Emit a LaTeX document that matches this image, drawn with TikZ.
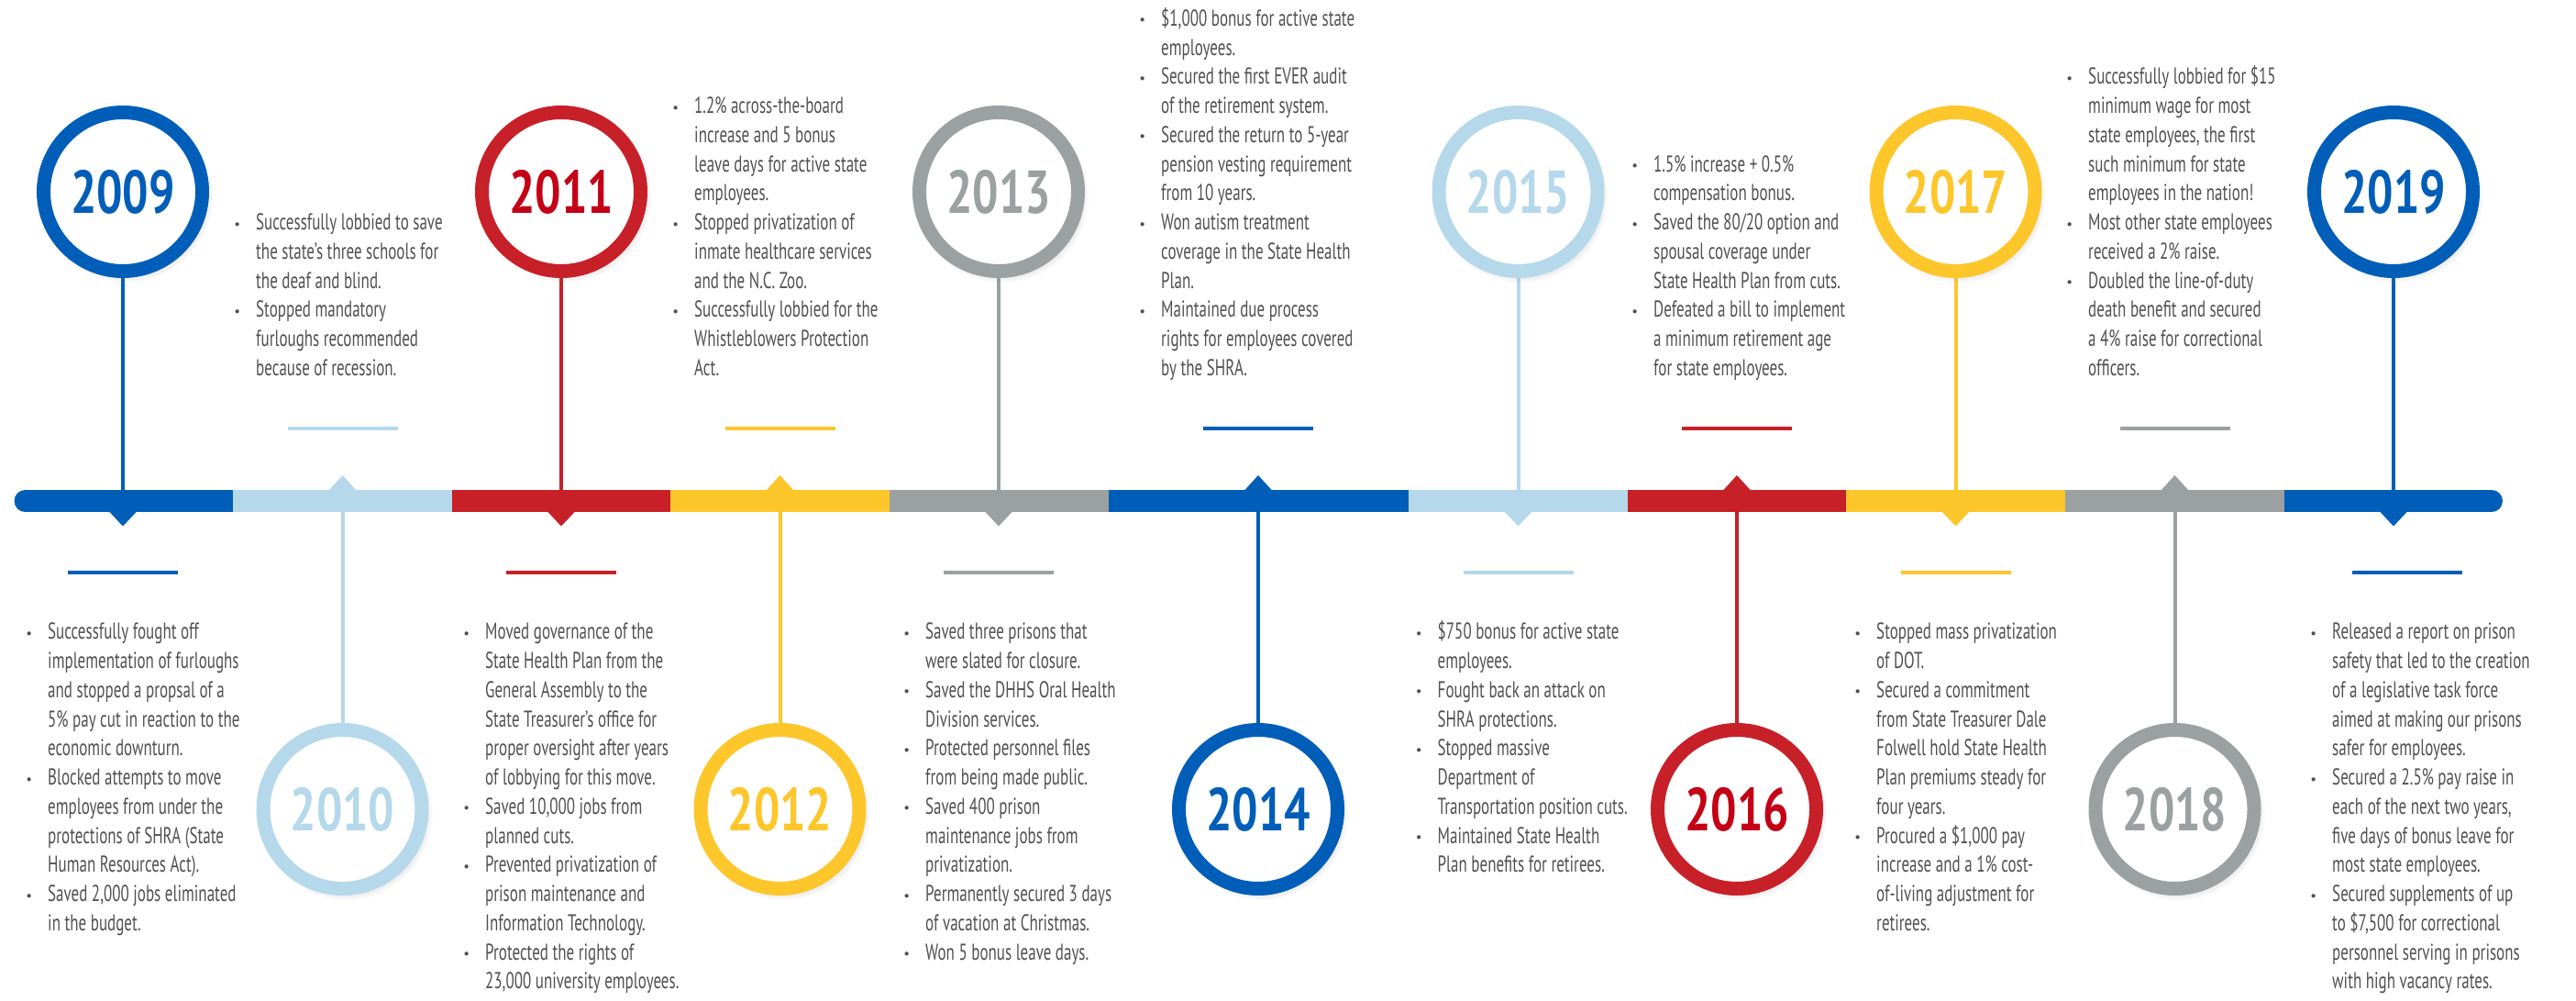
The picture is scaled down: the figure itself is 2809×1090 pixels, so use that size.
\documentclass[tikz,border=0pt]{standalone}
\usepackage{fontspec}
\setmainfont{PT Sans}[FakeStretch=0.68]
\newfontfamily\yearfont{PT Sans}[FakeStretch=0.76]
\newfontfamily\plainfont{PT Sans}
\usetikzlibrary{shadows}
\definecolor{cDB}{RGB}{0,94,184}
\definecolor{cLB}{RGB}{181,216,235}
\definecolor{cRD}{RGB}{200,32,40}
\definecolor{cRT}{RGB}{196,0,22}
\definecolor{cYL}{RGB}{253,198,43}
\definecolor{cGR}{RGB}{155,161,161}
\definecolor{cTX}{RGB}{80,80,82}
\newcommand\bodyfont{\fontsize{25}{31.75}\selectfont}
\newcommand\bi{\strut\llap{\raisebox{1.5pt}{\plainfont\fontsize{15}{15}\selectfont\textbullet}\hspace{17pt}}}
\newcommand\li{\strut}
\pgfdeclarelayer{bg}
\pgfsetlayers{bg,main}
\begin{document}
\begin{tikzpicture}[x=1pt,y=-1pt,
  ring/.style={circle, minimum size=173pt, inner sep=0pt, line width=15pt, fill=white,
    font=\yearfont\bfseries\fontsize{66}{66}\selectfont,
    circular drop shadow={shadow scale=1.1, shadow xshift=3pt, shadow yshift=-4pt, opacity=0.3}},
  stem/.style={line width=4pt},
  dashmark/.style={line width=4pt},
  txt/.style={align=left, inner sep=0pt, text=cTX, font=\bodyfont}]
\useasboundingbox (0,0) rectangle (2809,1090);
% timeline bar
\fill[cDB] (27.5,534) rectangle (254,558);
\fill[cDB] (27.5,546) circle (12);
\fill[cLB] (254,534) rectangle (493,558);
\fill[cRD] (493,534) rectangle (731,558);
\fill[cYL] (731,534) rectangle (970,558);
\fill[cGR] (970,534) rectangle (1208.5,558);
\fill[cDB] (1208.5,534) rectangle (1536,558);
\fill[cLB] (1536,534) rectangle (1775,558);
\fill[cRD] (1775,534) rectangle (2013,558);
\fill[cYL] (2013,534) rectangle (2252,558);
\fill[cGR] (2252,534) rectangle (2491,558);
\fill[cDB] (2491,534) rectangle (2717,558);
\fill[cDB] (2717,546) circle (12);
% years above the bar
\foreach \yr/\x/\c/\t/\dx in {2009/134/cDB/cDB/0, 2011/612/cRD/cRT/0, 2013/1089/cGR/cGR/0,
  2015/1655.5/cLB/cLB/0, 2017/2132.5/cYL/cYL/0, 2019/2610/cDB/cDB/15}{
  \node[ring, draw=\c, text=\t] (y\yr) at (\x,209) {\yr};
  \coordinate (b\yr) at (\x,534);
  \begin{pgfonlayer}{bg}
    \draw[stem, \c] (y\yr) -- (b\yr);
  \end{pgfonlayer}
  \fill[\c] (\x-15.5,557) -- (\x+15.5,557) -- (\x,573.5) -- cycle;
  \draw[dashmark, \c] (\x+\dx-60,623.5) -- (\x+\dx+60,623.5);
}
% years below the bar
\foreach \yr/\x/\c/\t in {2010/373.5/cLB/cLB, 2012/850.5/cYL/cYL, 2014/1372/cDB/cDB,
  2016/1894/cRD/cRT, 2018/2371.5/cGR/cGR}{
  \node[ring, draw=\c, text=\t] (y\yr) at (\x,882) {\yr};
  \coordinate (b\yr) at (\x,558);
  \begin{pgfonlayer}{bg}
    \draw[stem, \c] (y\yr) -- (b\yr);
  \end{pgfonlayer}
  \fill[\c] (\x-15.5,535) -- (\x+15.5,535) -- (\x,518) -- cycle;
  \draw[dashmark, \c] (\x-60,467) -- (\x+60,467);
}
% texts above
\node[txt, anchor=south west] (t2010) at (279,419.2) {\bi Successfully lobbied to save
\\\li the state’s three schools for
\\\li the deaf and blind.
\\\bi Stopped mandatory
\\\li furloughs recommended
\\\li because of recession.};
\node[txt, anchor=south west] (t2012) at (757,419.2) {\bi 1.2\% across-the-board
\\\li increase and 5 bonus
\\\li leave days for active state
\\\li employees.
\\\bi Stopped privatization of
\\\li inmate healthcare services
\\\li and the N.C. Zoo.
\\\bi Successfully lobbied for the
\\\li Whistleblowers Protection
\\\li Act.};
\node[txt, anchor=south west] (t2014) at (1266,419.2) {\bi \$1,000 bonus for active state
\\\li employees.
\\\bi Secured the first EVER audit
\\\li of the retirement system.
\\\bi Secured the return to 5-year
\\\li pension vesting requirement
\\\li from 10 years.
\\\bi Won autism treatment
\\\li coverage in the State Health
\\\li Plan.
\\\bi Maintained due process
\\\li rights for employees covered
\\\li by the SHRA.};
\node[txt, anchor=south west] (t2016) at (1803,419.2) {\bi 1.5\% increase + 0.5\%
\\\li compensation bonus.
\\\bi Saved the 80/20 option and
\\\li spousal coverage under
\\\li State Health Plan from cuts.
\\\bi Defeated a bill to implement
\\\li a minimum retirement age
\\\li for state employees.};
\node[txt, anchor=south west] (t2018) at (2277,419.2) {\bi Successfully lobbied for \$15
\\\li minimum wage for most
\\\li state employees, the first
\\\li such minimum for state
\\\li employees in the nation!
\\\bi Most other state employees
\\\li received a 2\% raise.
\\\bi Doubled the line-of-duty
\\\li death benefit and secured
\\\li a 4\% raise for correctional
\\\li officers.};
% texts below
\node[txt, anchor=north west] (t2009) at (52,674.5) {\bi Successfully fought off
\\\li implementation of furloughs
\\\li and stopped a propsal of a
\\\li 5\% pay cut in reaction to the
\\\li economic downturn.
\\\bi Blocked attempts to move
\\\li employees from under the
\\\li protections of SHRA (State
\\\li Human Resources Act).
\\\bi Saved 2,000 jobs eliminated
\\\li in the budget.};
\node[txt, anchor=north west] (t2011) at (529,674.5) {\bi Moved governance of the
\\\li State Health Plan from the
\\\li General Assembly to the
\\\li State Treasurer’s office for
\\\li proper oversight after years
\\\li of lobbying for this move.
\\\bi Saved 10,000 jobs from
\\\li planned cuts.
\\\bi Prevented privatization of
\\\li prison maintenance and
\\\li Information Technology.
\\\bi Protected the rights of
\\\li 23,000 university employees.};
\node[txt, anchor=north west] (t2013) at (1009,674.5) {\bi Saved three prisons that
\\\li were slated for closure.
\\\bi Saved the DHHS Oral Health
\\\li Division services.
\\\bi Protected personnel files
\\\li from being made public.
\\\bi Saved 400 prison
\\\li maintenance jobs from
\\\li privatization.
\\\bi Permanently secured 3 days
\\\li of vacation at Christmas.
\\\bi Won 5 bonus leave days.};
\node[txt, anchor=north west] (t2015) at (1567.5,674.5) {\bi \$750 bonus for active state
\\\li employees.
\\\bi Fought back an attack on
\\\li SHRA protections.
\\\bi Stopped massive
\\\li Department of
\\\li Transportation position cuts.
\\\bi Maintained State Health
\\\li Plan benefits for retirees.};
\node[txt, anchor=north west] (t2017) at (2046,674.5) {\bi Stopped mass privatization
\\\li of DOT.
\\\bi Secured a commitment
\\\li from State Treasurer Dale
\\\li Folwell hold State Health
\\\li Plan premiums steady for
\\\li four years.
\\\bi Procured a \$1,000 pay
\\\li increase and a 1\% cost-
\\\li of-living adjustment for
\\\li retirees.};
\node[txt, anchor=north west] (t2019) at (2543,674.5) {\bi Released a report on prison
\\\li safety that led to the creation
\\\li of a legislative task force
\\\li aimed at making our prisons
\\\li safer for employees.
\\\bi Secured a 2.5\% pay raise in
\\\li each of the next two years,
\\\li five days of bonus leave for
\\\li most state employees.
\\\bi Secured supplements of up
\\\li to \$7,500 for correctional
\\\li personnel serving in prisons
\\\li with high vacancy rates.};
\end{tikzpicture}
\end{document}
